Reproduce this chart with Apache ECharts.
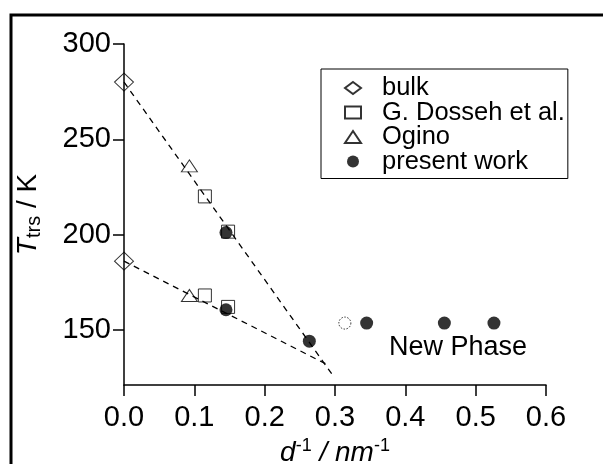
<!DOCTYPE html>
<html>
<head>
<meta charset="utf-8">
<script src="https://cdn.jsdelivr.net/npm/echarts@6/dist/echarts.min.js"></script>
<style>
  html, body { margin: 0; padding: 0; background: #fff; }
  #chart { width: 603px; height: 464px; }
</style>
</head>
<body>
<div id="chart"></div>
<script>
// Transition temperature vs. inverse pore diameter
const bulk = [[0, 280], [0, 186]];
const dosseh = [[0.115, 220], [0.148, 201.5], [0.115, 168], [0.148, 162]];
const ogino = [[0.093, 236], [0.093, 168]];
const presentWork = [[0.145, 201], [0.145, 160.5], [0.2635, 144], [0.345, 153.5], [0.4555, 153.5], [0.526, 153.5]];
const presentWorkTentative = [[0.314, 153.5]];
// Guide lines for the two branches
const upperBranch = [[0, 280], [0.297, 126]];
const lowerBranch = [[0, 186], [0.29, 131.5]];

const xTicks = [0, 0.1, 0.2, 0.3, 0.4, 0.5, 0.6];
const yTicks = [150, 200, 250, 300];

const FONT = '"Liberation Sans", Arial, sans-serif';
const chart = echarts.init(document.getElementById('chart'), null, { renderer: 'canvas' });

const hollow = { color: 'rgba(255,255,255,0)', borderColor: '#000', borderWidth: 1 };
const dash = { color: '#000', width: 1.3, type: [6, 5] };

chart.setOption({
  animation: false,
  backgroundColor: '#fff',
  textStyle: { fontFamily: FONT, color: '#000' },
  grid: { left: 124, right: 57, top: 44, bottom: 79, outerBoundsMode: 'none' },
  xAxis: {
    type: 'value', min: 0, max: 0.6, interval: 0.1,
    axisLine: { onZero: false, lineStyle: { color: '#000', width: 1.5 } },
    axisTick: { length: 11, lineStyle: { color: '#000', width: 1.5 } },
    axisLabel: { margin: 18, fontSize: 29, color: '#000', fontFamily: FONT,
      customValues: xTicks, formatter: v => v.toFixed(1) },
    splitLine: { show: false },
    name: '{i|d}{p|-1}{i| / nm}{p|-1}',
    nameLocation: 'middle', nameGap: 44,
    nameTextStyle: {
      rich: {
        i: { fontStyle: 'italic', fontSize: 28, lineHeight: 32, fontFamily: FONT, color: '#000' },
        p: { fontSize: 18, lineHeight: 18, verticalAlign: 'top', fontFamily: FONT, color: '#000' }
      }
    }
  },
  yAxis: {
    type: 'value', min: 121, max: 300,
    axisLine: { onZero: false, lineStyle: { color: '#000', width: 1.5 } },
    axisTick: { length: 11, customValues: yTicks, lineStyle: { color: '#000', width: 1.5 } },
    axisLabel: { margin: 13, fontSize: 29, color: '#000', fontFamily: FONT, customValues: yTicks },
    splitLine: { show: false },
    name: '{t|T}{s|trs}{n| / K}',
    nameLocation: 'middle', nameGap: 80,
    nameTextStyle: {
      rich: {
        t: { fontStyle: 'italic', fontSize: 28, lineHeight: 32, fontFamily: FONT, color: '#000' },
        s: { fontSize: 20, lineHeight: 20, verticalAlign: 'bottom', fontFamily: FONT, color: '#000' },
        n: { fontSize: 28, lineHeight: 32, fontFamily: FONT, color: '#000' }
      }
    }
  },
  legend: {
    orient: 'vertical', left: 321, top: 69,
    padding: [6, 3, 4, 23],
    itemWidth: 16, itemHeight: 12, itemGap: -1.5, symbolKeepAspect: false,
    borderColor: '#000', borderWidth: 1,
    textStyle: { fontSize: 25.5, lineHeight: 18, height: 18, color: '#000', fontFamily: FONT, padding: [0, 0, 0, 16] },
    data: ['bulk', 'G. Dosseh et al.', 'Ogino', 'present work']
  },
  series: [
    { type: 'line', name: 'upper', data: upperBranch, symbol: 'none', lineStyle: dash, z: 5, silent: true },
    { type: 'line', name: 'lower', data: lowerBranch, symbol: 'none', lineStyle: dash, z: 5, silent: true },
    { type: 'scatter', name: 'bulk', data: bulk, symbol: 'diamond', symbolSize: [19, 18], itemStyle: hollow, z: 3 },
    { type: 'scatter', name: 'G. Dosseh et al.', data: dosseh, symbol: 'rect', symbolSize: 13, itemStyle: hollow, z: 3 },
    { type: 'scatter', name: 'Ogino', data: ogino, symbol: 'triangle', symbolSize: [16, 12], itemStyle: hollow, z: 3 },
    { type: 'scatter', name: 'present work', data: presentWork, symbol: 'circle', symbolSize: 13,
      itemStyle: { color: '#000' }, z: 4 },
    { type: 'scatter', name: 'tentative', data: presentWorkTentative, symbol: 'circle', symbolSize: 12,
      itemStyle: { color: 'rgba(255,255,255,0)', borderColor: '#000', borderWidth: 1, borderType: [1.5, 1.5] }, z: 4 }
  ],
  graphic: [
    { type: 'rect', shape: { x: 11, y: 15, width: 800, height: 700 },
      style: { fill: null, stroke: '#000', lineWidth: 3 }, silent: true },
    { type: 'text', x: 458, y: 348,
      style: { text: 'New Phase', font: '27px ' + FONT, fill: '#000', align: 'center', verticalAlign: 'middle' } }
  ]
});
</script>
</body>
</html>
